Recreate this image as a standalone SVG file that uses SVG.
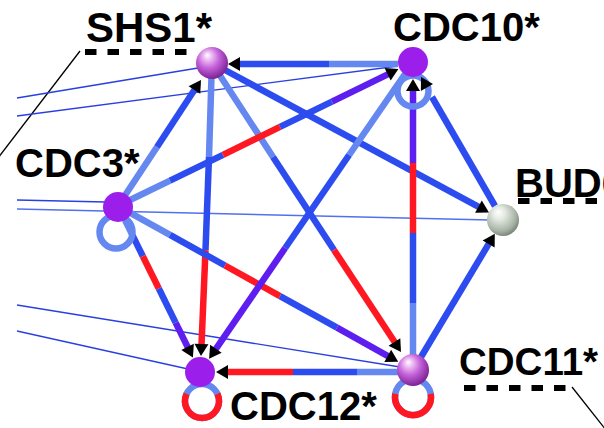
<svg xmlns="http://www.w3.org/2000/svg" xmlns:xlink="http://www.w3.org/1999/xlink" width="604" height="428" viewBox="0 0 604 428">
<style>
.e line,.e path,.e circle{fill:none;stroke-width:6.5;stroke-linecap:butt}
.b{stroke:#2d4cf0}
.lb{stroke:#6587f0}
.p{stroke:#5f1ef0}
.r{stroke:#ff1822}
.thin line{stroke:#2a3fe0;stroke-width:1.4}
.lbl{font-family:"Liberation Sans",Arial,sans-serif;font-weight:bold;font-size:40px;fill:#000}
.dash{stroke:#000;stroke-width:6;stroke-dasharray:11.5 11}
.ptr{stroke:#000;stroke-width:1.3}
.flat{fill:#9b1eeb}
</style>
<defs>
<path id="ah" d="M0,0 L-12,-7 L-12,7 Z" fill="#000"/>
<radialGradient id="pink" cx="0.42" cy="0.38" r="0.62" fx="0.35" fy="0.25">
<stop offset="0" stop-color="#ffffff"/>
<stop offset="0.18" stop-color="#f2c6f5"/>
<stop offset="0.55" stop-color="#c462da"/>
<stop offset="1" stop-color="#7d2395"/>
</radialGradient>
<radialGradient id="grey" cx="0.42" cy="0.38" r="0.62" fx="0.35" fy="0.25">
<stop offset="0" stop-color="#ffffff"/>
<stop offset="0.3" stop-color="#e6ebe4"/>
<stop offset="0.8" stop-color="#a7b3a5"/>
<stop offset="1" stop-color="#7b897a"/>
</radialGradient>
</defs>
<rect width="604" height="428" fill="#fff"/>

<g id="labels">
<text class="lbl" x="86" y="42" style="font-size:42px">SHS1*</text>
<line class="dash" x1="85" y1="52" x2="187" y2="52"/>
<line class="ptr" x1="80" y1="51" x2="-2" y2="158"/>
<text class="lbl" x="393" y="41">CDC10*</text>
<text class="lbl" x="15" y="177">CDC3*</text>
<text class="lbl" x="515" y="197">BUD6*</text>
<line class="dash" x1="518" y1="201" x2="604" y2="201"/>
<text class="lbl" x="230" y="420">CDC12*</text>
<text class="lbl" x="459" y="375" style="font-size:38.5px">CDC11*</text>
<line class="dash" x1="464" y1="388" x2="566" y2="388"/>
<line class="ptr" x1="572" y1="387" x2="606" y2="430"/>
</g>

<g id="connectors">
<g class="thin">
<line x1="17" y1="98" x2="198" y2="68"/>
<line x1="17" y1="116" x2="398" y2="66"/>
<line x1="17" y1="200" x2="105" y2="202"/>
<line x1="17" y1="209" x2="490" y2="220" style="stroke:#5070ee"/>
<line x1="17" y1="305" x2="400" y2="367"/>
<line x1="17" y1="331" x2="188" y2="369"/>
</g>
<g class="e">
<!-- CDC10 -> SHS1 -->
<line class="lb" x1="398" y1="64" x2="329" y2="64"/>
<line class="b" x1="329" y1="64" x2="237" y2="64"/>
<!-- CDC3 -> SHS1 -->
<line class="lb" x1="118" y1="206" x2="157" y2="147"/>
<line class="b" x1="157" y1="147" x2="196" y2="87.5"/>
<!-- SHS1 -> CDC12 -->
<line class="lb" x1="211.5" y1="76" x2="209" y2="157"/>
<line class="b" x1="209" y1="157" x2="205.5" y2="250"/>
<line class="r" x1="205.5" y1="250" x2="201.4" y2="347"/>
<!-- SHS1 -> CDC11 -->
<line class="lb" x1="219" y1="74" x2="273" y2="157"/>
<line class="b" x1="273" y1="157" x2="334" y2="250"/>
<line class="r" x1="334" y1="250" x2="396.3" y2="344.5"/>
<!-- SHS1 -> BUD -->
<line class="b" x1="224" y1="69.5" x2="481" y2="208.2"/>
<!-- CDC3 -> CDC10 -->
<line class="lb" x1="128" y1="201" x2="170" y2="180.6"/>
<line class="b" x1="170" y1="180.6" x2="223" y2="154.8"/>
<line class="r" x1="223" y1="154.8" x2="280" y2="126.9"/>
<line class="b" x1="280" y1="126.9" x2="332" y2="101.6"/>
<line class="p" x1="332" y1="101.6" x2="390.3" y2="73.1"/>
<!-- CDC3 -> CDC12 -->
<line class="lb" x1="125" y1="220" x2="131.3" y2="232.9"/>
<line class="b" x1="131.3" y1="232.9" x2="142.8" y2="256.2"/>
<line class="r" x1="142.8" y1="256.2" x2="158.8" y2="288.5"/>
<line class="b" x1="158.8" y1="288.5" x2="175.6" y2="322.6"/>
<line class="p" x1="175.6" y1="322.6" x2="188.9" y2="349.5"/>
<!-- CDC3 -> CDC11 -->
<line class="lb" x1="128" y1="211.6" x2="170" y2="234.9"/>
<line class="b" x1="170" y1="234.9" x2="225" y2="265.5"/>
<line class="r" x1="225" y1="265.5" x2="280" y2="296.1"/>
<line class="b" x1="280" y1="296.1" x2="337" y2="327.7"/>
<line class="p" x1="337" y1="327.7" x2="390.2" y2="357.4"/>
<!-- CDC10 -> CDC12 -->
<line class="lb" x1="405" y1="74" x2="349.1" y2="155"/>
<line class="b" x1="349.1" y1="155" x2="285.2" y2="248"/>
<line class="p" x1="285.2" y1="248" x2="214.2" y2="351.3"/>
<!-- CDC11 -> CDC10 -->
<line class="lb" x1="413" y1="356" x2="413" y2="303"/>
<line class="b" x1="413" y1="303" x2="413" y2="233"/>
<line class="r" x1="413" y1="233" x2="413" y2="163"/>
<line class="p" x1="413" y1="163" x2="413" y2="88"/>
<!-- BUD -> CDC10 -->
<line class="b" x1="495" y1="206" x2="432" y2="97"/>
<!-- CDC11 -> BUD -->
<line class="b" x1="421" y1="357" x2="490.2" y2="241.4"/>
<!-- CDC11 -> CDC12 -->
<line class="lb" x1="400" y1="372" x2="357" y2="372"/>
<line class="b" x1="357" y1="372" x2="293" y2="372"/>
<line class="r" x1="293" y1="372" x2="225" y2="372"/>
<!-- self loops -->
<circle class="lb" cx="116" cy="232" r="16.5"/>
<circle class="lb" cx="413" cy="91" r="15.5"/>
<circle class="lb" cx="202" cy="401" r="17"/>
<path class="r" d="M217.4,393.8 A17,17 0 1 1 186.6,393.8"/>
<circle class="lb" cx="413" cy="397" r="18"/>
<path class="r" d="M430.7,393.9 A18,18 0 1 1 395.3,393.9"/>
</g>
<g id="arrowheads">
<use xlink:href="#ah" transform="translate(228,64) rotate(180)"/>
<use xlink:href="#ah" transform="translate(201,80) rotate(-56.7)"/>
<use xlink:href="#ah" transform="translate(201,356) rotate(92.2)"/>
<use xlink:href="#ah" transform="translate(401,352) rotate(56.8)"/>
<use xlink:href="#ah" transform="translate(489,212.4) rotate(28.4)"/>
<use xlink:href="#ah" transform="translate(398.4,69) rotate(-26)"/>
<use xlink:href="#ah" transform="translate(192.9,357.6) rotate(63.7)"/>
<use xlink:href="#ah" transform="translate(398.2,361.8) rotate(29.1)"/>
<use xlink:href="#ah" transform="translate(209.1,358.7) rotate(124.5)"/>
<use xlink:href="#ah" transform="translate(413,79) rotate(-90)"/>
<use xlink:href="#ah" transform="translate(421,77) rotate(-119.7)"/>
<use xlink:href="#ah" transform="translate(494.8,233.7) rotate(-59)"/>
<use xlink:href="#ah" transform="translate(216,372) rotate(180)"/>
</g>
</g>

<g id="SHS1"><circle cx="212" cy="63" r="16" fill="url(#pink)"/></g>
<g id="CDC10"><circle class="flat" cx="413" cy="62" r="15"/></g>
<g id="CDC3"><circle class="flat" cx="118" cy="207" r="15"/></g>
<g id="BUD6"><circle cx="503" cy="220" r="16" fill="url(#grey)"/></g>
<g id="CDC12"><circle class="flat" cx="200" cy="372" r="15"/></g>
<g id="CDC11"><circle cx="413" cy="370" r="16" fill="url(#pink)"/></g>
</svg>
